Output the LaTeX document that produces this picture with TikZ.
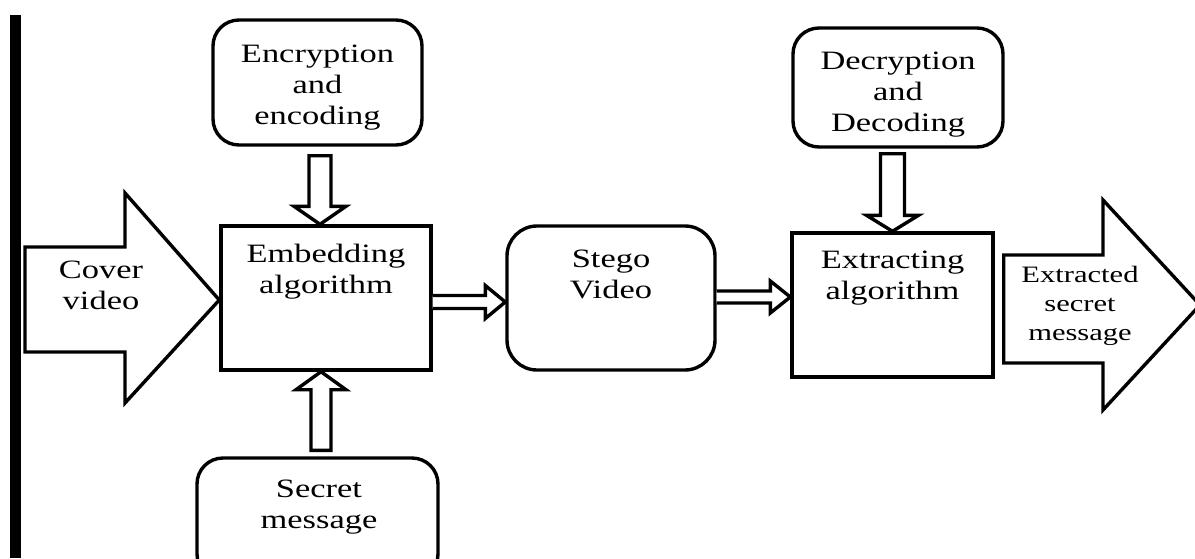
\documentclass[tikz,border=0pt]{standalone}
\usepackage{fontspec}
\setmainfont{Liberation Serif}[FakeStretch=1.3]
\usetikzlibrary{calc}
\tikzset{
  box/.style={draw=black, line width=3.4pt, minimum width=#1, inner sep=0pt},
  rbox/.style={box=#1, rounded corners=26pt},
  hollow/.style={draw=black, fill=white, line width=3.4pt, line join=miter},
  txt/.style={align=center, inner sep=0pt, font=\fontsize{26.5}{31}\selectfont},
  stxt/.style={align=center, inner sep=0pt, font=\fontsize{23.5}{29}\selectfont},
}
\begin{document}
\begin{tikzpicture}[x=1pt, y=-1pt]
\useasboundingbox (0,0) rectangle (1195,558);
\clip (0,0) rectangle (1195,558);
% left black bar
\fill[black] (10,15) rectangle (21,558);
% boxes
\node[rbox=209pt, minimum height=125pt] (enc) at (317.5,82.5) {};
\node[rbox=210pt, minimum height=119pt] (dec) at (898,87.5) {};
\node[box=210pt, minimum height=144pt] (emb) at (326,298) {};
\node[rbox=208pt, minimum height=144pt, rounded corners=30pt] (stg) at (611,298) {};
\node[box=201pt, minimum height=144pt] (ext) at (892.5,305) {};
\node[rbox=241pt, minimum height=122pt] (sec) at (317.5,519) {};
% texts
\node[txt] (encT) at (317.5,87.5) {Encryption\\and\\encoding};
\node[txt] (decT) at (898,95) {Decryption\\and\\Decoding};
\node[txt] (embT) at (326,271.5) {Embedding\\algorithm};
\node[txt] (stgT) at (611,274) {Stego\\Video};
\node[txt] (extT) at (892.5,278) {Extracting\\algorithm};
\node[txt] (secT) at (319,507) {Secret\\message};
% cover video big arrow
\draw[hollow] (25,247) -- (125,247) -- (125,193) -- (emb.west |- 0,300) -- (125,403) -- (125,352) -- (25,352) -- cycle;
\node[txt] (covT) at (101,285) {Cover\\video};
% extracted secret message big arrow
\draw[hollow] (ext.east |- 0,255) ++(9,0) coordinate (x0) -- (1103,255) -- (1103,200) -- (1200,305) -- (1103,410) -- (1103,363) -- ($(x0 |- 0,363)$) -- cycle;
\node[stxt] (outT) at (1080,306) {Extracted\\secret\\message};
% vertical hollow arrows
\coordinate (a1s) at ($(enc.south)+(2.5,9)$);
\coordinate (a1t) at (a1s |- emb.north);
\draw[hollow] ($(a1s)+(-11,0)$) -- ($(a1t)+(-11,-18)$) -- ($(a1t)+(-26,-18)$) -- (a1t)
  -- ($(a1t)+(26,-18)$) -- ($(a1t)+(11,-18)$) -- ($(a1s)+(11,0)$) -- cycle;
\coordinate (a2s) at ($(sec.north)+(3.5,-6)$);
\coordinate (a2t) at (a2s |- emb.south);
\draw[hollow] ($(a2s)+(-10,0)$) -- ($(a2t)+(-10,18)$) -- ($(a2t)+(-25,18)$) -- (a2t)
  -- ($(a2t)+(25,18)$) -- ($(a2t)+(10,18)$) -- ($(a2s)+(10,0)$) -- cycle;
\coordinate (a3s) at ($(dec.south)+(-5.5,5)$);
\coordinate (a3t) at (a3s |- ext.north);
\draw[hollow] ($(a3s)+(-12,0)$) -- ($(a3t)+(-12,-16)$) -- ($(a3t)+(-26,-16)$) -- (a3t)
  -- ($(a3t)+(26,-16)$) -- ($(a3t)+(12,-16)$) -- ($(a3s)+(12,0)$) -- cycle;
% horizontal hollow arrows
\coordinate (h1s) at ($(emb.east)+(0,4)$);
\coordinate (h1t) at (h1s -| stg.west);
\draw[hollow] ($(h1s)+(0,-6.5)$) -- ($(h1t)+(-20,-6.5)$) -- ($(h1t)+(-20,-16.5)$) -- (h1t)
  -- ($(h1t)+(-20,16.5)$) -- ($(h1t)+(-20,6.5)$) -- ($(h1s)+(0,6.5)$);
\coordinate (h2s) at ($(stg.east)+(0,-1)$);
\coordinate (h2t) at (h2s -| ext.west);
\draw[hollow] ($(h2s)+(0,-6)$) -- ($(h2t)+(-20,-6)$) -- ($(h2t)+(-20,-16)$) -- (h2t)
  -- ($(h2t)+(-20,16)$) -- ($(h2t)+(-20,6)$) -- ($(h2s)+(0,6)$);
\end{tikzpicture}
\end{document}
